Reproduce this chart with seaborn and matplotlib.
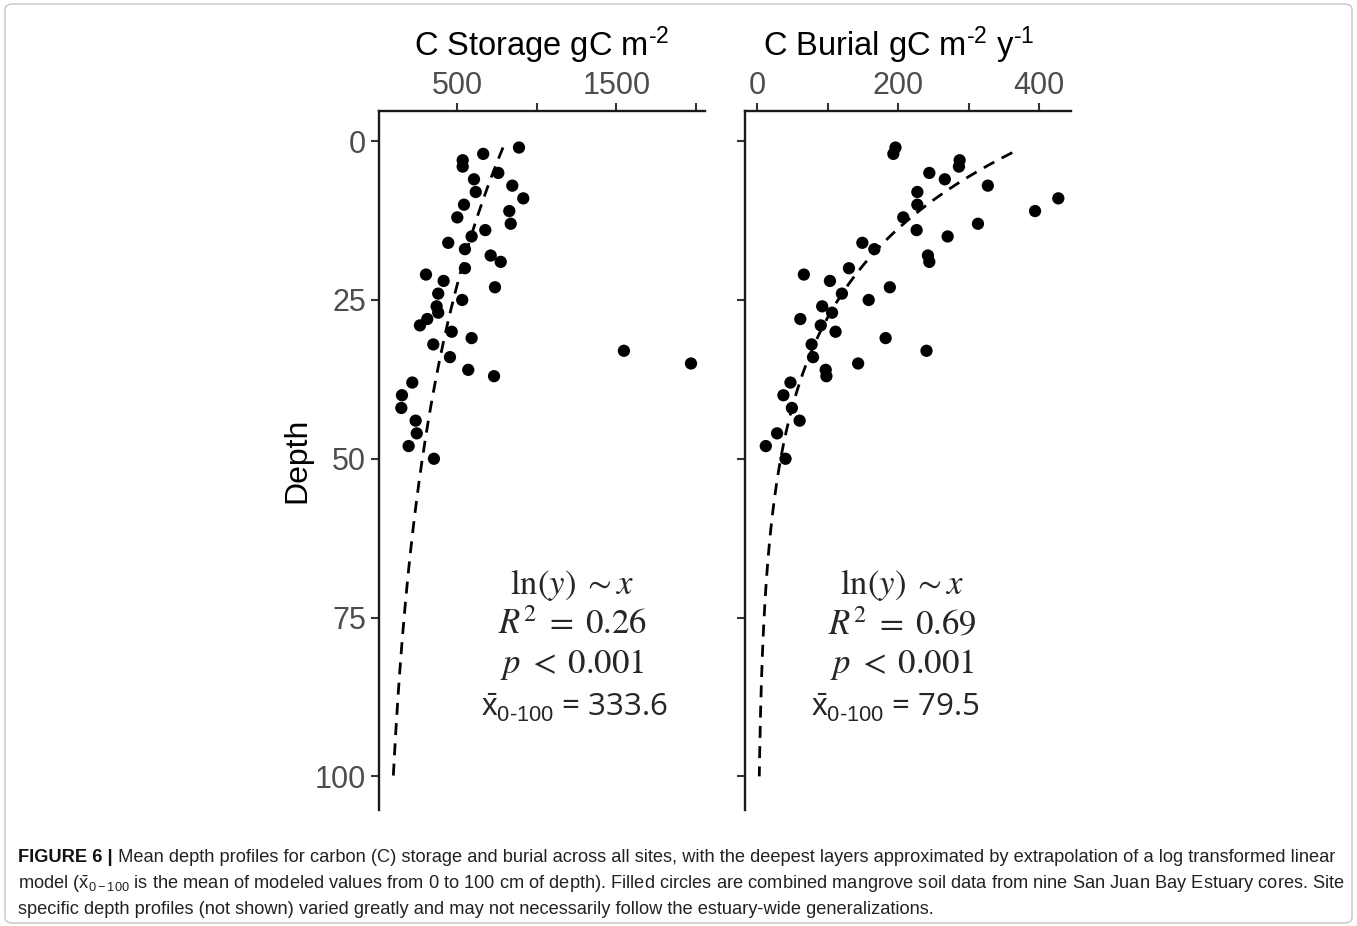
import numpy as np
import pandas as pd
import matplotlib
matplotlib.use("Agg")
import matplotlib.pyplot as plt
from matplotlib import font_manager
from matplotlib.patches import FancyBboxPatch
import seaborn as sns

# ---------------- data ----------------
depth = [1, 2, 3, 4, 5, 6, 7, 8, 9, 10, 11, 12, 13, 14, 15, 16, 17, 18, 19, 20,
         21, 22, 23, 24, 25, 26, 27, 28, 29, 30, 31, 32, 33, 34, 35, 36, 37, 38,
         40, 42, 44, 46, 48, 50]
storage = [888, 663, 534, 534, 758, 605, 846, 616, 915, 542, 827, 500, 836, 676,
           590, 443, 548, 710, 773, 548, 303, 414, 737, 380, 531, 370, 380, 311,
           265, 465, 590, 349, 1548, 454, 1970, 569, 731, 217, 152, 148, 238, 245,
           194, 353]
burial = [196, 193, 287, 286, 244, 266, 327, 227, 427, 227, 394, 207, 313, 226,
          270, 149, 166, 242, 244, 130, 66, 103, 188, 120, 158, 92, 106, 61, 90,
          111, 182, 77, 240, 79, 143, 97, 98, 47, 37, 49, 60, 28, 12, 40]

# log-linear model ln(value) = a + b * depth (as drawn in the reference)
storage_model = {"a": 6.69, "b": -0.0211, "start": 1.0, "end": 100.0}
burial_model = {"a": 5.98, "b": -0.0496, "start": 1.8, "end": 100.0}

storage_ticks = [500, 1000, 1500, 2000]
storage_ticklabels = ["500", "", "1500", ""]
burial_ticks = [0, 100, 200, 300, 400]
burial_ticklabels = ["0", "", "200", "", "400"]
depth_ticks = [0, 25, 50, 75, 100]
depth_ticklabels = ["0", "25", "50", "75", "100"]

storage_stats = ["0.26", "0.001", "333.6"]
burial_stats = ["0.69", "0.001", "79.5"]

storage_title = r"C Storage gC m$^{\text{-2}}$"
burial_title = r"C Burial gC m$^{\text{-2}}$ y$^{\text{-1}}$"
ylabel_text = "Depth"

caption_bold = "FIGURE 6 |"
caption_l1 = (" Mean depth profiles for carbon (C) storage and burial across all sites, "
              "with the deepest layers approximated by extrapolation of a log transformed linear")
caption_l2 = (r"model ($\bar{\mathsf{x}}_{0-100}$ is the mean of modeled values from 0 to 100 cm of depth). "
              "Filled circles are combined mangrove soil data from nine San Juan Bay Estuary cores. Site")
caption_l3 = ("specific depth profiles (not shown) varied greatly and may not necessarily "
              "follow the estuary-wide generalizations.")

# ---------------- style ----------------
sns.set_theme(style="white")
plt.rcParams["font.family"] = ["Liberation Sans", "DejaVu Sans"]
plt.rcParams["mathtext.fontset"] = "custom"
plt.rcParams["mathtext.rm"] = "Liberation Sans"
plt.rcParams["mathtext.it"] = "Liberation Sans:italic"
plt.rcParams["mathtext.sf"] = "Liberation Sans"
plt.rcParams["mathtext.bf"] = "Liberation Sans:bold"

installed = {f.name for f in font_manager.fontManager.ttflist}
cap_font = "Liberation Sans Narrow" if "Liberation Sans Narrow" in installed else "Liberation Sans"
cap_size = 15.6 if cap_font == "Liberation Sans Narrow" else 13.12

W, H = 1357, 926
fig = plt.figure(figsize=(W / 100, H / 100), dpi=100)
fig.patch.set_facecolor("white")

def px_axes(x0, x1, y0, y1):
    return fig.add_axes([x0 / W, 1 - y1 / H, (x1 - x0) / W, (y1 - y0) / H])

ax1 = px_axes(379.3, 705.0, 110.7, 810.0)
ax2 = px_axes(745.0, 1071.0, 110.7, 810.0)

df = pd.DataFrame({"depth": depth, "storage": storage, "burial": burial})

def model_curve(m):
    d = np.linspace(m["start"], m["end"], 200)
    return pd.DataFrame({"depth": d, "value": np.exp(m["a"] + m["b"] * d)})

tick_col = "#4d4d4d"
spine_col = "#1a1a1a"

panels = [
    (ax1, "storage", storage_model, (9.4, 2058), storage_ticks, storage_ticklabels,
     storage_title, 0.5, storage_stats, 0.592, 0.60),
    (ax2, "burial", burial_model, (-17.5, 445), burial_ticks, burial_ticklabels,
     burial_title, 0.472, burial_stats, 0.482, 0.462),
]

for i, (ax, col, model, xlim, xt, xtl, title, tx, stats, sx, bx) in enumerate(panels):
    sns.scatterplot(data=df, x=col, y="depth", ax=ax, s=78, color="black",
                    edgecolor="none", linewidth=0, zorder=3)
    sns.lineplot(data=model_curve(model), x="value", y="depth", ax=ax, sort=False,
                 color="black", lw=2.0, linestyle=(0, (4.3, 3.0)), zorder=2,
                 estimator=None)
    ax.set_xlim(*xlim)
    ax.set_ylim(105.3, -4.8)
    ax.xaxis.tick_top()
    ax.xaxis.set_label_position("top")
    ax.set_xticks(xt)
    ax.set_xticklabels(xtl)
    ax.set_yticks(depth_ticks)
    if i == 0:
        ax.set_yticklabels(depth_ticklabels)
        ax.set_ylabel(ylabel_text, fontsize=23, color="black", va="center")
        ax.yaxis.set_label_coords(-0.253, 0.5)
    else:
        ax.set_yticklabels([])
        ax.set_ylabel("")
    ax.set_xlabel(title, fontsize=23.5, color="black", va="center")
    ax.xaxis.set_label_coords(tx, 1.094)
    for s in ["right", "bottom"]:
        ax.spines[s].set_visible(False)
    for s in ["left", "top"]:
        ax.spines[s].set_visible(True)
        ax.spines[s].set_color(spine_col)
        ax.spines[s].set_linewidth(1.7)
    ax.tick_params(axis="x", which="both", top=True, bottom=False, length=5.5,
                   width=1.5, color="#333333", labelsize=22, labelcolor=tick_col, pad=1.5)
    ax.tick_params(axis="y", which="both", left=True, right=False, length=5.5,
                   width=1.5, color="#333333", labelsize=22, labelcolor=tick_col, pad=4)
    ax.grid(False)
    ax.set_facecolor("white")

    tr = ax.transAxes
    ax.text(sx, 0.322, r"$\ln(y)\;{\sim}x$", transform=tr, ha="center", va="center",
            fontsize=25, math_fontfamily="stix")
    ax.text(sx, 0.2655, r"$R^2\;=\;%s$" % stats[0], transform=tr, ha="center", va="center",
            fontsize=25, math_fontfamily="stix")
    ax.text(sx, 0.208, r"$p\;<\;%s$" % stats[1], transform=tr, ha="center", va="center",
            fontsize=25, math_fontfamily="stix")
    ax.text(bx, 0.146,
            r"$\bar{\mathsf{x}}_{\mathsf{0\text{-}100}}$ = %s" % stats[2],
            transform=tr, ha="center", va="center", fontsize=22.5,
            family=["Open Sans", "DejaVu Sans"])

# caption
cap_col = "#222222"
t0 = fig.text(18 / W, 1 - 858 / H, caption_bold, fontsize=cap_size, fontweight="bold",
              family=[cap_font, "DejaVu Sans"], va="center", ha="left", color="#111111")
fig.canvas.draw()
plt.annotate(caption_l1, xy=(1, 0.5), xycoords=t0, va="center", ha="left",
             fontsize=cap_size, family=[cap_font, "DejaVu Sans"], color=cap_col,
             annotation_clip=False)
fig.text(18 / W, 1 - 884 / H, caption_l2, fontsize=cap_size, family=[cap_font, "DejaVu Sans"],
         va="center", ha="left", color=cap_col)
fig.text(18 / W, 1 - 910 / H, caption_l3, fontsize=cap_size, family=[cap_font, "DejaVu Sans"],
         va="center", ha="left", color=cap_col)

# figure frame
frame = FancyBboxPatch((5 / W, 3 / H), (W - 10) / W, (H - 7) / H,
                       boxstyle="round,pad=0,rounding_size=0.006", transform=fig.transFigure,
                       facecolor="none", edgecolor="#c4c4c4", linewidth=1.0)
fig.patches.append(frame)

fig.savefig("out.png", dpi=100, facecolor="white")
